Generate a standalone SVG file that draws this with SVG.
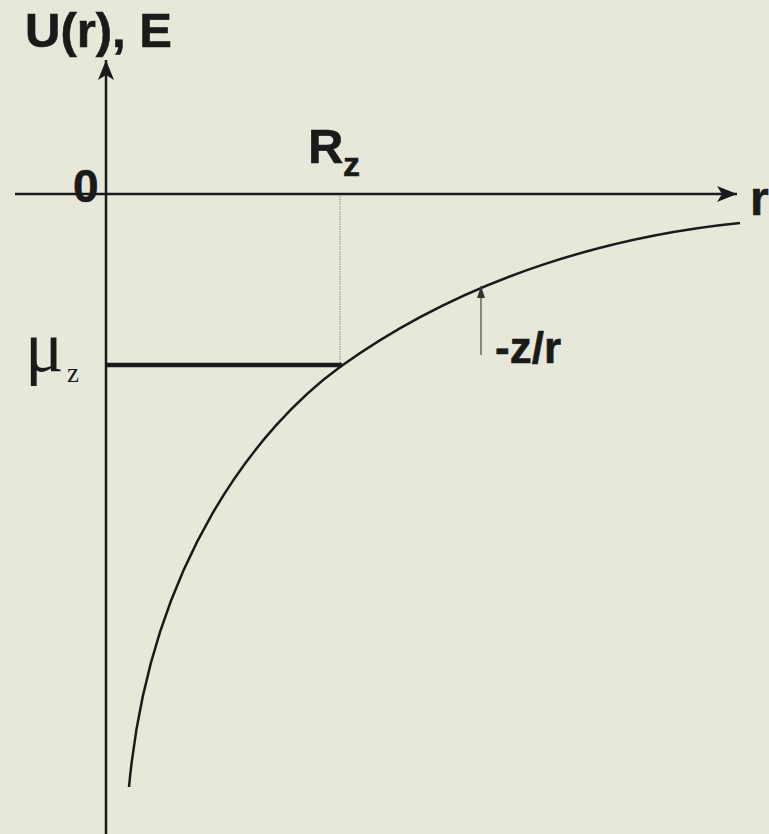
<svg xmlns="http://www.w3.org/2000/svg" width="769" height="834" viewBox="0 0 769 834">
<defs>
<marker id="ah" viewBox="0 0 20 16" refX="20" refY="8" markerWidth="20" markerHeight="16" markerUnits="userSpaceOnUse" orient="auto"><path d="M0,0 L20,8 L0,16 L5,8 Z" fill="#1a1a1a"/></marker>
<marker id="ahs" viewBox="0 0 12 8" refX="12" refY="4" markerWidth="12" markerHeight="8" markerUnits="userSpaceOnUse" orient="auto"><path d="M0,0 L12,4 L0,8 Z" fill="#333"/></marker>
<style>
.b{font-family:"Liberation Sans",Arial,sans-serif;font-weight:bold;fill:#1a1a1a;stroke:#1a1a1a;stroke-width:0.6}
.s{font-family:"Liberation Serif","Times New Roman",serif;fill:#1a1a1a}
.ax{stroke:#1a1a1a;stroke-width:2.5;fill:none}
</style>
</defs>
<rect width="769" height="834" fill="#e7e8da"/>
<g id="connectors">
<line id="y-axis" class="ax" x1="106" y1="834" x2="106" y2="60" marker-end="url(#ah)"/>
<line id="x-axis" class="ax" x1="15" y1="194" x2="737" y2="194" marker-end="url(#ah)"/>
<path id="curve" class="ax" d="M129,787 C150,560 260,425 340,367 C470,273.4 620,235 740,223"/>
<line id="rz-drop" x1="340" y1="196" x2="340" y2="364" stroke="#888" stroke-width="1" stroke-dasharray="1.5,1"/>
<line id="mu-level" x1="106" y1="365" x2="342" y2="365" stroke="#1a1a1a" stroke-width="4.5"/>
<line id="pointer" x1="481" y1="355" x2="481" y2="286" stroke="#444" stroke-width="1.2" marker-end="url(#ahs)"/>
</g>
<g id="label-U"><text class="b" x="25" y="47" font-size="49">U(r), E</text></g>
<g id="label-0"><text class="b" x="73" y="202" font-size="46">0</text></g>
<g id="label-Rz"><text class="b" x="308" y="163" font-size="49">R</text><text class="b" x="343" y="176" font-size="34">z</text></g>
<g id="label-r"><text class="b" x="750" y="215" font-size="48">r</text></g>
<g id="label-mu"><text class="s" x="25" y="371" font-size="72">μ</text><text class="s" x="67" y="382" font-size="27">z</text></g>
<g id="label-zr"><text class="b" x="495" y="363" font-size="44">-z/r</text></g>
</svg>
